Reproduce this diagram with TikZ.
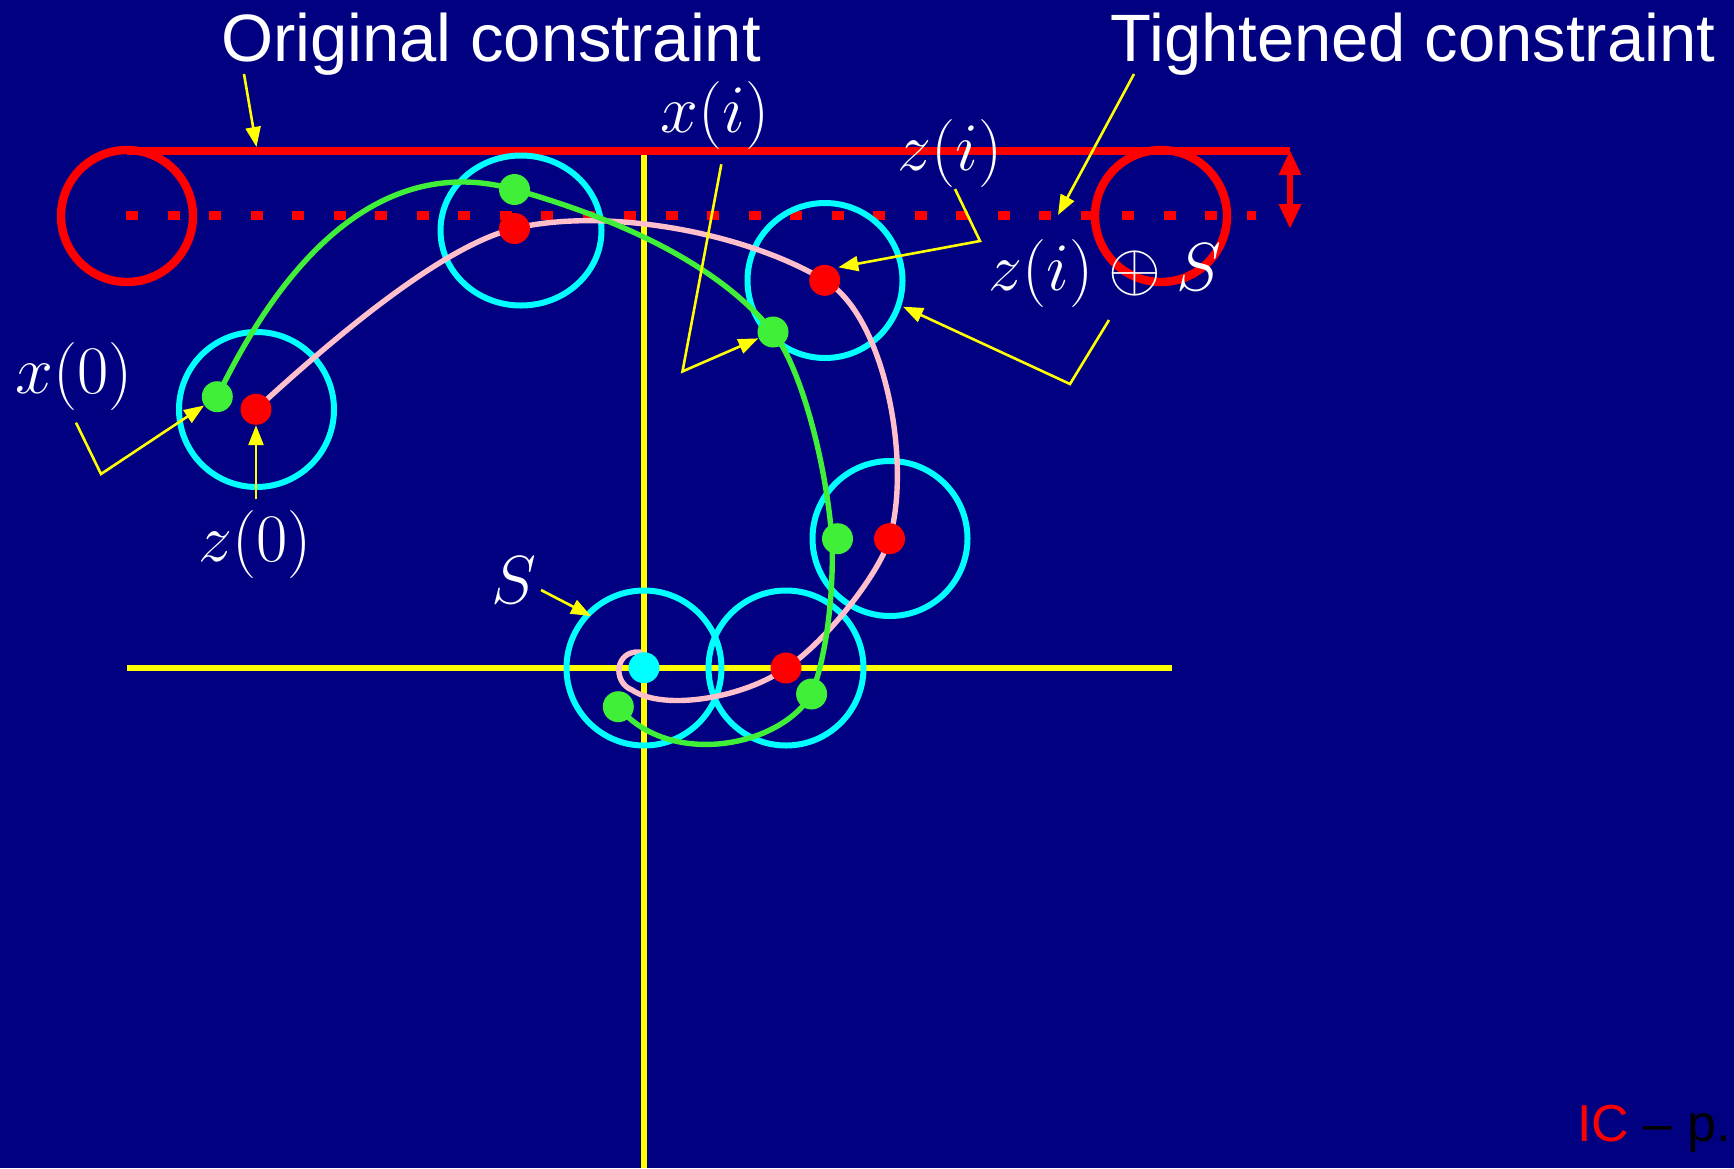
\RequirePackage{fix-cm}
\documentclass[tikz,border=0pt]{standalone}
\usepackage[no-math]{fontspec}
\newfontfamily\hel{Liberation Sans}
\usetikzlibrary{arrows.meta,shapes.geometric}
\definecolor{navybg}{RGB}{0,0,128}
\definecolor{grn}{RGB}{64,240,56}
\definecolor{pinkc}{RGB}{255,192,203}
\definecolor{cyn}{RGB}{0,255,255}
\definecolor{ylw}{RGB}{255,255,0}
\definecolor{rd}{RGB}{255,0,0}
\begin{document}
\begin{tikzpicture}[x=0.5pt,y=-0.5pt,
  ring/.style={circle,draw=cyn,line width=3pt,minimum size=77.5pt,inner sep=0pt},
  pt/.style={circle,minimum size=15.5pt,inner sep=0pt},
  rdot/.style={pt,fill=rd},
  gdot/.style={pt,fill=grn},
  cdot/.style={pt,fill=cyn},
  callout/.style={ylw,line width=1.3pt,-{Triangle[length=10pt,width=7.5pt]}},
  mlab/.style={text=white,inner sep=0pt,font=\fontsize{34}{40}\selectfont},
  title/.style={text=white,inner sep=0pt,font=\hel\fontsize{33.5}{40}\selectfont},
  redthick/.style={rd,line width=4.2pt},
  traj/.style={line width=2.7pt,line join=round,line cap=round},
  axis/.style={ylw,line width=2.8pt}
]
\fill[navybg] (0,0) rectangle (1734,1168);
\useasboundingbox (0,0) rectangle (1734,1168);

% constraints
\coordinate (lc) at (127,216);
\coordinate (rc) at (1161,216);
\coordinate (topL) at (127,151);
\coordinate (topR) at (1290,151);
\coordinate (arrT) at (1290,150);
\coordinate (arrB) at (1290,229);
\coordinate (dotL) at (126,215.5);
\coordinate (dotR) at (1256,215.5);
\draw[redthick] (topL) -- (topR);
\draw[rd,line width=4.4pt,dash pattern=on 6pt off 14.75pt] (dotL) -- (dotR);
\draw[redthick] (lc) circle[radius=33pt];
\draw[redthick] (rc) circle[radius=33pt];
\draw[rd,line width=3.3pt,{Triangle[length=12.5pt,width=10.5pt]}-{Triangle[length=12.5pt,width=10.5pt]}] (arrT) -- (arrB);

% axes
\coordinate (vT) at (644,155);
\coordinate (vB) at (644,1168);
\coordinate (hL) at (127,668);
\coordinate (hR) at (1172,668);
\draw[axis] (vT) -- (vB);
\draw[axis] (hL) -- (hR);

% rings
\node[ring] (s0) at (256.5,409.5) {};
\node[ellipse,draw=cyn,line width=3pt,minimum width=80.5pt,minimum height=75pt,inner sep=0pt] (s1) at (521,230.5) {};
\node[ring] (s2) at (825,280.5) {};
\node[ring] (s3) at (890,538.5) {};
\node[ring] (s4) at (644,668) {};
\node[ring] (s5) at (786,668) {};

% dot positions
\coordinate (z0) at (256,409.3);
\coordinate (z1) at (514.5,228.5);
\coordinate (z2) at (824.7,280.3);
\coordinate (z3) at (889.5,538.7);
\coordinate (z4) at (786,668);
\coordinate (z5) at (644,667.7);
\coordinate (x0) at (217.3,396.7);
\coordinate (x1) at (514.5,189.5);
\coordinate (x2) at (773,332);
\coordinate (x3) at (837.5,538.7);
\coordinate (x4) at (811.6,694);
\coordinate (x5) at (618.3,706.7);
\coordinate (g3) at (832,540);
\coordinate (pa) at (632,690);
\coordinate (pb) at (640,652);

% nominal trajectory z
\draw[traj,pinkc] (z0) .. controls (326,345) and (439.5,246.5) .. (z1)
  .. controls (604.5,207) and (743.3,231.5) .. (z2)
  .. controls (885,316) and (912,462) .. (z3)
  .. controls (878.3,577) and (820,647) .. (z4)
  .. controls (746,697) and (665,712) .. (pa)
  .. controls (612,682) and (615,650) .. (pb) -- (z5);
% actual trajectory x
\draw[traj,grn] (x0) .. controls (305,215) and (410,160) .. (x1)
  .. controls (604.5,215) and (713,258) .. (x2)
  .. controls (800,366) and (826,460) .. (g3)
  .. controls (834,600) and (825,660) .. (x4)
  .. controls (780,748) and (668,768) .. (x5);

% dots
\node[rdot] (dz0) at (z0) {};
\node[rdot] (dz1) at (z1) {};
\node[rdot] (dz2) at (z2) {};
\node[rdot] (dz3) at (z3) {};
\node[rdot] (dz4) at (z4) {};
\node[cdot] (dz5) at (z5) {};
\node[gdot] (dx0) at (x0) {};
\node[gdot] (dx1) at (x1) {};
\node[gdot] (dx2) at (x2) {};
\node[gdot] (dx3) at (x3) {};
\node[gdot] (dx4) at (x4) {};
\node[gdot] (dx5) at (x5) {};

% titles
\node[title,anchor=base] (orig) at (491,61) {Original constraint};
\node[title,anchor=base] (tight) at (1413,61) {Tightened constraint};
\node[anchor=base west,inner sep=0pt,font=\hel\fontsize{26}{30}\selectfont] (foot) at (1577,1141) {\textcolor{rd}{IC} \textcolor{black}{– p.}};

% math labels
\node[mlab] (lx0) at (74.5,376.5) {$x(0)$};
\node[mlab] (lz0) at (255,544) {$z(0)$};
\node[mlab] (lxi) at (715,115) {$x(i)$};
\node[mlab] (lzi) at (950,153) {$z(i)$};
\node[mlab] (lzs) at (1105,273) {$z(i)\oplus S$};
\node[mlab] (lS) at (514,580) {$S$};

% callouts
\coordinate (cOs) at (244,74);
\coordinate (cOt) at (256.5,147);
\draw[callout] (cOs) -- (cOt);
\coordinate (cTs) at (1134,74);
\coordinate (cTt) at (1058,215);
\draw[callout] (cTs) -- (cTt);
\coordinate (cx0a) at (76,422.7);
\coordinate (cx0b) at (101,474);
\draw[callout] (cx0a) -- (cx0b) -- (dx0);
\coordinate (cz0a) at (256,499.3);
\draw[callout] (cz0a) -- (dz0);
\coordinate (cxia) at (721.3,164.3);
\coordinate (cxib) at (682.5,371.4);
\draw[callout] (cxia) -- (cxib) -- (dx2);
\coordinate (czia) at (955,189);
\coordinate (czib) at (980,241);
\coordinate (czit) at (838.3,267.3);
\draw[callout] (czia) -- (czib) -- (czit);
\coordinate (czsa) at (1109,320);
\coordinate (czsb) at (1070,384);
\coordinate (czst) at (903,306.7);
\draw[callout] (czsa) -- (czsb) -- (czst);
\coordinate (cSa) at (541,590);
\coordinate (cSt) at (591,616);
\draw[callout] (cSa) -- (cSt);
\end{tikzpicture}
\end{document}
